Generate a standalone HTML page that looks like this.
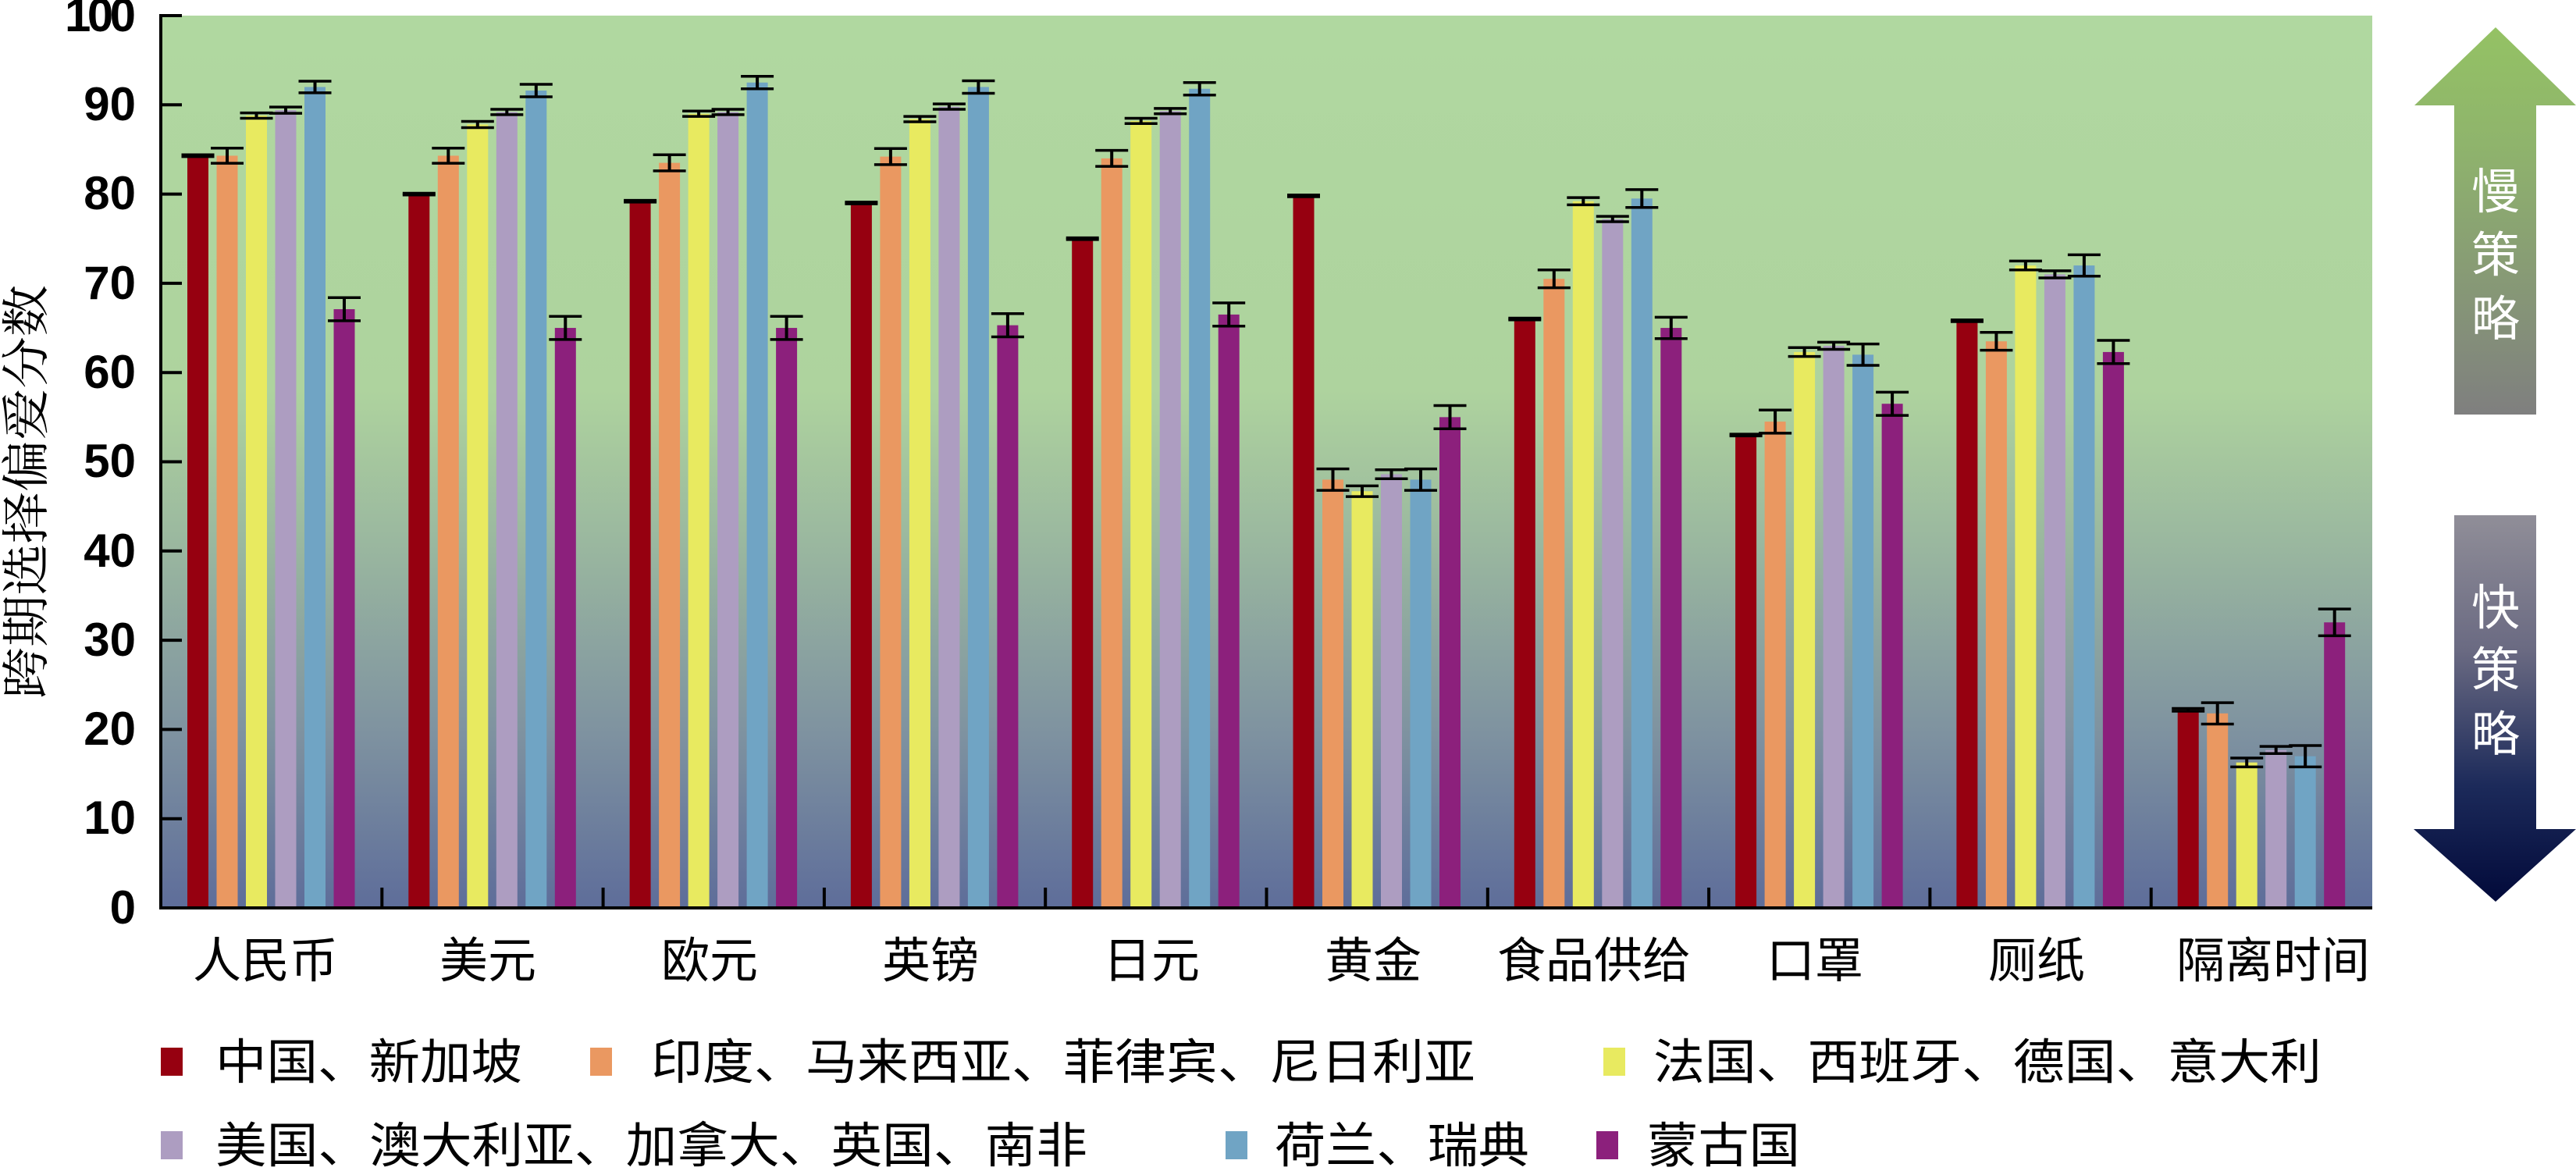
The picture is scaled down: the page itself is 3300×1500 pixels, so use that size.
<!DOCTYPE html>
<html><head><meta charset="utf-8"><style>
html,body{margin:0;padding:0;background:#fff;width:3300px;height:1500px;overflow:hidden}
svg{display:block}
text{font-family:"Liberation Sans","Noto Sans CJK SC",sans-serif}
.num{font-family:"Liberation Serif",serif;font-weight:bold;font-size:60px}
.cjk{font-family:"Liberation Serif","Noto Serif CJK SC","Noto Sans CJK SC",serif;font-size:62px}
</style></head><body>
<svg id="s" width="3300" height="1500" viewBox="0 0 3300 1500" xmlns="http://www.w3.org/2000/svg">
<defs>
<linearGradient id="bg" x1="0" y1="0" x2="0" y2="1">
<stop offset="0" stop-color="#b0d8a0"/><stop offset="0.42" stop-color="#aed39e"/>
<stop offset="0.6" stop-color="#99b69f"/><stop offset="0.8" stop-color="#7f93a0"/>
<stop offset="1" stop-color="#5e6d9a"/></linearGradient>
<linearGradient id="up" x1="0" y1="0" x2="0" y2="1">
<stop offset="0" stop-color="#94c264"/><stop offset="0.3" stop-color="#8fb46c"/><stop offset="1" stop-color="#7f7f7f"/></linearGradient>
<linearGradient id="dn" x1="0" y1="0" x2="0" y2="1">
<stop offset="0" stop-color="#908e98"/><stop offset="0.35" stop-color="#6a6a82"/><stop offset="0.7" stop-color="#1c2a5a"/><stop offset="1" stop-color="#020a3a"/></linearGradient>
</defs>
<rect x="206" y="20" width="2833" height="1143" fill="url(#bg)"/>
<g id="bars"></g>
<path d="M206 18 V1163 H3039" fill="none" stroke="#000" stroke-width="4"/>
<g id="ticks" stroke="#000" stroke-width="4"></g>
<g class="num" text-anchor="end">
<text x="174" y="40" textLength="91">100</text>
<text x="174" y="154">90</text><text x="174" y="268">80</text><text x="174" y="383">70</text>
<text x="174" y="497">60</text><text x="174" y="611">50</text><text x="174" y="726">40</text>
<text x="174" y="840">30</text><text x="174" y="954">20</text><text x="174" y="1068">10</text>
<text x="174" y="1183">0</text>
</g>
<text class="cjk" transform="translate(55,630) rotate(-90)" text-anchor="middle" textLength="530" lengthAdjust="spacingAndGlyphs">跨期选择偏爱分数</text>
<g class="cjk" text-anchor="middle">
<text x="340" y="1252">人民币</text><text x="625" y="1252">美元</text>
<text x="909" y="1252">欧元</text><text x="1192" y="1252">英镑</text>
<text x="1475" y="1252">日元</text><text x="1759" y="1252">黄金</text>
<text x="2042" y="1252">食品供给</text><text x="2325" y="1252">口罩</text>
<text x="2609" y="1252">厕纸</text><text x="2912" y="1252">隔离时间</text>
</g>
<path d="M3197 35 L3093 135 L3144 135 L3144 531 L3249 531 L3249 135 L3300 135 Z" fill="url(#up)"/>
<path d="M3144 660 L3249 660 L3249 1062 L3300 1062 L3197 1155 L3092 1062 L3144 1062 Z" fill="url(#dn)"/>
<g class="cjk" fill="#fff" text-anchor="middle" font-size="66">
<text x="3197" y="267">慢</text><text x="3197" y="348">策</text><text x="3197" y="430">略</text>
<text x="3197" y="800">快</text><text x="3197" y="880">策</text><text x="3197" y="962">略</text>
</g>
<g class="cjk">
<rect x="206" y="1342" width="28" height="36" fill="#960010"/>
<text x="276" y="1382" textLength="393" lengthAdjust="spacingAndGlyphs">中国、新加坡</text>
<rect x="756" y="1342" width="28" height="36" fill="#ea9861"/>
<text x="834" y="1382" textLength="1056" lengthAdjust="spacingAndGlyphs">印度、马来西亚、菲律宾、尼日利亚</text>
<rect x="2054" y="1342" width="28" height="36" fill="#e8ea60"/>
<text x="2118" y="1382" textLength="856" lengthAdjust="spacingAndGlyphs">法国、西班牙、德国、意大利</text>
<rect x="206" y="1449" width="28" height="36" fill="#ad9dc1"/>
<text x="276" y="1489" textLength="1117" lengthAdjust="spacingAndGlyphs">美国、澳大利亚、加拿大、英国、南非</text>
<rect x="1570" y="1449" width="28" height="36" fill="#70a4c4"/>
<text x="1633" y="1489" textLength="326" lengthAdjust="spacingAndGlyphs">荷兰、瑞典</text>
<rect x="2045" y="1449" width="28" height="36" fill="#8c207c"/>
<text x="2110" y="1489" textLength="196" lengthAdjust="spacingAndGlyphs">蒙古国</text>
</g>
</svg>
<script>
var cols=["#960010","#ea9861","#e8ea60","#ad9dc1","#70a4c4","#8c207c"];
var d=[
[[84.3,.1],[84.3,.85],[88.8,.3],[89.4,.35],[92,.65],[67.1,1.3]],
[[80,.1],[84.3,.85],[87.8,.35],[89.2,.3],[91.6,.7],[65,1.3]],
[[79.2,.1],[83.5,.9],[89,.3],[89.2,.3],[92.5,.7],[65,1.3]],
[[79,.1],[84.2,.9],[88.4,.3],[89.8,.3],[92,.7],[65.3,1.3]],
[[75,.1],[84,.9],[88.2,.3],[89.3,.3],[91.8,.7],[66.5,1.3]],
[[79.8,.1],[48,1.2],[46.7,.6],[48.6,.5],[48,1.2],[55,1.3]],
[[66,.1],[70.5,1],[79.2,.4],[77.2,.3],[79.5,1],[65,1.2]],
[[53,.1],[54.5,1.3],[62.3,.5],[63,.4],[62,1.2],[56.5,1.3]],
[[65.8,.1],[63.5,1],[72,.5],[71,.4],[72,1.2],[62.3,1.3]],
[[22.2,.15],[21.8,1.2],[16.3,.5],[17.7,.4],[17,1.2],[32,1.5]]];
var ns="http://www.w3.org/2000/svg",g=document.getElementById("bars"),t=document.getElementById("ticks");
function Y(v){return 1163-v*11.43;}
function el(p,n,a){var e=document.createElementNS(ns,n);for(var k in a)e.setAttribute(k,a[k]);p.appendChild(e);}
for(var i=0;i<10;i++){var gx=206+i*283.3;
 for(var j=0;j<6;j++){var x=gx+34+j*37.5,v=d[i][j][0],e=d[i][j][1];
  el(g,"rect",{x:x,y:Y(v),width:27,height:1163-Y(v),fill:cols[j]});
  var cx=x+13.5;
  el(g,"line",{x1:cx,x2:cx,y1:Y(v+e),y2:Y(v-e),stroke:"#000","stroke-width":4});
  el(g,"line",{x1:cx-21,x2:cx+21,y1:Y(v+e),y2:Y(v+e),stroke:"#000","stroke-width":3.5});
  el(g,"line",{x1:cx-21,x2:cx+21,y1:Y(v-e),y2:Y(v-e),stroke:"#000","stroke-width":3.5});
 }
 if(i>0) el(t,"line",{x1:gx,x2:gx,y1:1163,y2:1137});
}
for(var k=1;k<=10;k++) el(t,"line",{x1:206,x2:233,y1:Y(k*10),y2:Y(k*10)});
</script>
</body></html>
